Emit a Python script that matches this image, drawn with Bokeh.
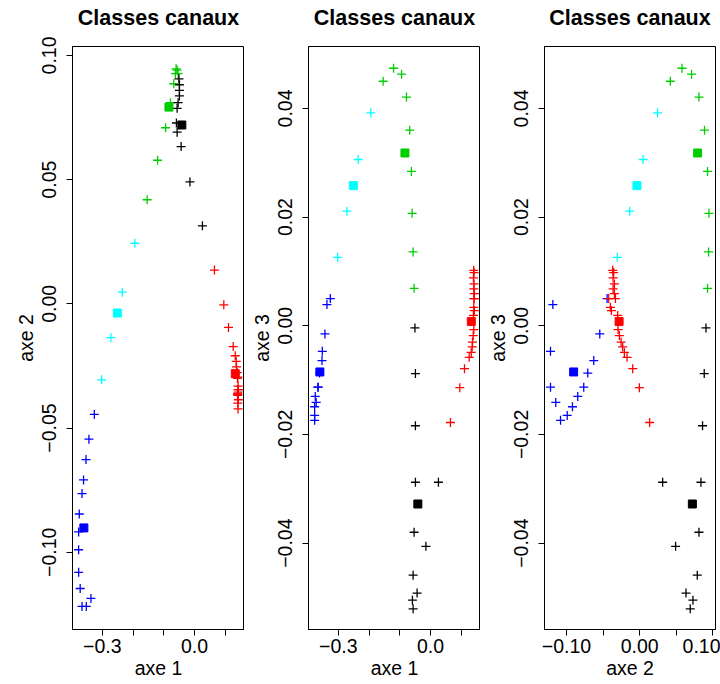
from bokeh.plotting import figure
from bokeh.models import Range1d, FixedTicker, Title
from bokeh.layouts import row
from bokeh.embed import file_html
from bokeh.resources import INLINE

FONT = "Liberation Sans"

# ---- data: coordinates of each observation on axes 1, 2, 3 ----
blue_axe1 = [-0.326, -0.337, -0.3435, -0.352, -0.353, -0.361, -0.366, -0.366, -0.375, -0.372, -0.377, -0.377, -0.377]
blue_axe2 = [-0.0445, -0.1186, -0.0545, -0.1218, -0.0627, -0.0709, -0.0764, -0.1218, -0.0846, -0.1146, -0.0918, -0.0990, -0.1081]
blue_axe3 = [0.0050, 0.0039, -0.0015, -0.0047, -0.0064, -0.0087, -0.0113, -0.0113, -0.0130, -0.0141, -0.0149, -0.0165, -0.0174]

cyan_axe1 = [-0.194, -0.235, -0.272, -0.302]
cyan_axe2 = [0.0244, 0.0047, -0.0136, -0.0306]
cyan_axe3 = [0.0392, 0.0306, 0.0211, 0.0126]

green_axe1 = [-0.154, -0.120, -0.094, -0.078, -0.0675, -0.062, -0.0597, -0.0564, -0.0532]
green_axe2 = [0.0419, 0.0578, 0.0709, 0.0810, 0.0886, 0.0927, 0.0946, 0.0941, 0.0927]
green_axe3 = [0.0450, 0.0474, 0.0463, 0.0421, 0.0360, 0.0284, 0.0207, 0.0136, 0.0069]

black_axe1 = [-0.0505, -0.0489, -0.0489, 0.026, -0.0489, -0.0532, -0.0147, -0.0564, -0.0434, -0.0587, -0.0564]
black_axe2 = [0.0906, 0.0882, 0.0859, 0.0314, 0.0837, 0.0810, 0.0491, 0.0787, 0.0633, 0.0728, 0.0691]
black_axe3 = [-0.0004, -0.0088, -0.0184, -0.0288, -0.0288, -0.0380, -0.0406, -0.0459, -0.0492, -0.0505, -0.0521]

red_axe1 = [0.0652, 0.0956, 0.1109, 0.1262, 0.1328, 0.1360, 0.1370, 0.1393, 0.1412,
            0.141, 0.142, 0.140, 0.142, 0.141, 0.143, 0.142, 0.142, 0.141, 0.143, 0.140]
red_axe2 = [0.0136, -0.0004, -0.0095, -0.0172, -0.0209, -0.0232, -0.0254, -0.0277, -0.0295,
            -0.0368, -0.0355, -0.0363, -0.0345, -0.0363, -0.0345, -0.0331, -0.0423, -0.0400, -0.0386, -0.0300]
red_axe3 = [-0.0178, -0.0114, -0.0079, -0.0058, -0.0049, -0.0039, -0.0030, -0.0018, -0.0007,
            0.0102, 0.0098, 0.0088, 0.0077, 0.0068, 0.0059, 0.0050, 0.0050, 0.0034, 0.0028, 0.0019]

# class centres (filled squares): blue, cyan, green, black, red
centre_axe1 = [-0.360, -0.251, -0.083, -0.041, 0.133]
centre_axe2 = [-0.0902, -0.0037, 0.0792, 0.0720, -0.0281]
centre_axe3 = [-0.0085, 0.0258, 0.0318, -0.0328, 0.0008]
centre_colors = ["#0000FF", "#00FFFF", "#00CD00", "#000000", "#FF0000"]

class_names = ["blue", "cyan", "green", "black", "red"]
class_colors = ["#0000FF", "#00FFFF", "#00CD00", "#000000", "#FF0000"]

# ---- ticks ----
axe1_ticks = [-0.3, -0.2, -0.1, 0.0, 0.1]
axe1_labels = ["\u22120.3", "", "", "0.0", ""]
axe2_ticks = [-0.10, -0.05, 0.0, 0.05, 0.10]
axe2_labels_y = ["\u22120.10", "\u22120.05", "0.00", "0.05", "0.10"]
axe2_labels_x = ["\u22120.10", "", "0.00", "", "0.10"]
axe3_ticks = [-0.04, -0.02, 0.0, 0.02, 0.04]
axe3_labels = ["\u22120.04", "\u22120.02", "0.00", "0.02", "0.04"]

title_text = "Classes canaux"

points = {
    "blue": (blue_axe1, blue_axe2, blue_axe3),
    "cyan": (cyan_axe1, cyan_axe2, cyan_axe3),
    "green": (green_axe1, green_axe2, green_axe3),
    "black": (black_axe1, black_axe2, black_axe3),
    "red": (red_axe1, red_axe2, red_axe3),
}
centres = (centre_axe1, centre_axe2, centre_axe3)

FRAME_H = 583


def style_axis(ax, ticks, labels, vertical):
    ax.ticker = FixedTicker(ticks=ticks)
    ax.major_label_overrides = {t: l for t, l in zip(ticks, labels)}
    ax.minor_tick_line_color = None
    ax.major_tick_in = 0
    ax.major_tick_out = 6
    ax.major_tick_line_color = "black"
    ax.axis_line_color = "black"
    ax.major_label_text_font = FONT
    ax.major_label_text_font_size = "19.5px"
    ax.major_label_text_color = "black"
    ax.axis_label_text_font = FONT
    ax.axis_label_text_font_size = "19.5px"
    ax.axis_label_text_font_style = "normal"
    ax.axis_label_text_color = "black"
    if vertical:
        ax.major_label_orientation = "vertical"
        ax.major_label_standoff = 10
        ax.axis_label_standoff = 3
    else:
        ax.major_label_standoff = 3
        ax.axis_label_standoff = 1


def panel(xi, yi, xr, yr, xt, xl, yt, yl, xname, yname, left_border, right_border, fw):
    p = figure(frame_width=fw, frame_height=FRAME_H,
               x_range=Range1d(*xr), y_range=Range1d(*yr),
               output_backend="svg", toolbar_location=None,
               min_border_left=left_border, min_border_right=right_border,
               min_border_top=46, min_border_bottom=55)
    # spacer between the frame and the title (nearest the frame)
    p.add_layout(Title(text=" ", text_font_size="1px", standoff=14,
                       text_color="white"), "above")
    p.add_layout(Title(text=title_text, align="center", vertical_align="bottom",
                       standoff=0, text_font=FONT, text_font_size="21.5px",
                       text_font_style="bold", text_color="black"), "above")
    p.grid.visible = False
    p.outline_line_color = "black"
    p.outline_line_width = 1
    p.background_fill_color = "white"
    p.border_fill_color = "white"
    p.xaxis.axis_label = xname
    p.yaxis.axis_label = yname
    style_axis(p.xaxis[0], xt, xl, False)
    style_axis(p.yaxis[0], yt, yl, True)
    for name, col in zip(class_names, class_colors):
        arrs = points[name]
        p.scatter(arrs[xi], arrs[yi], marker="cross", size=9,
                  line_color=col, line_width=1.3)
    p.scatter(centres[xi], centres[yi], marker="square", size=8,
              fill_color=centre_colors, line_color=centre_colors)
    return p


p1 = panel(0, 1, (-0.397, 0.163), (-0.1311, 0.1036),
           axe1_ticks, axe1_labels, axe2_ticks, axe2_labels_y,
           "axe 1", "axe 2", 72, 0, 172)
p2 = panel(0, 2, (-0.397, 0.163), (-0.0559, 0.0514),
           axe1_ticks, axe1_labels, axe3_ticks, axe3_labels,
           "axe 1", "axe 3", 64, 0, 172)
p3 = panel(1, 2, (-0.130, 0.1036), (-0.0559, 0.0514),
           axe2_ticks, axe2_labels_x, axe3_ticks, axe3_labels,
           "axe 2", "axe 3", 64, 5, 171)

layout = row(p1, p2, p3)
open("out.html", "w").write(file_html(layout, INLINE))
